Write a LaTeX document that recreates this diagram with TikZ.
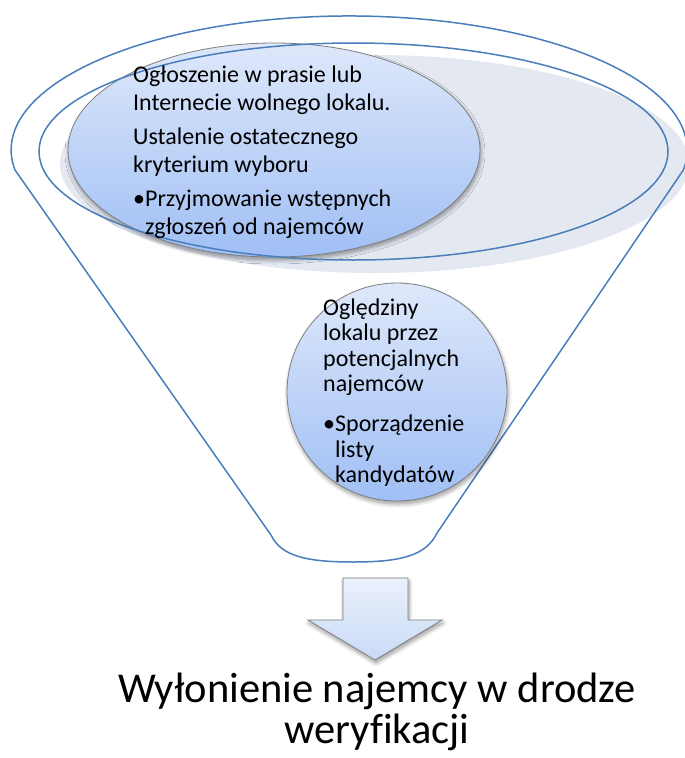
\documentclass[tikz,border=0pt]{standalone}
\usepackage{fontspec}
\setmainfont[Ligatures=NoCommon]{Carlito}
\usetikzlibrary{shapes.geometric,shadows.blur}

\definecolor{funnelblue}{HTML}{4A7EBB}
\definecolor{ringgray}{HTML}{E4E8F1}
\definecolor{bubbletop}{HTML}{DEE8FA}
\definecolor{bubblebot}{HTML}{A0BFF5}
\definecolor{bubbleline}{HTML}{7F7F7F}
\definecolor{arrowtop}{HTML}{EBF1FC}
\definecolor{arrowbot}{HTML}{C9DAF7}

\begin{document}
\begin{tikzpicture}[x=1bp,y=1bp,
  funnelline/.style={draw=funnelblue, line width=1.5bp},
  softshadow/.style={blur shadow={shadow xshift=1bp, shadow yshift=-3bp,
      shadow blur radius=4bp, shadow blur steps=8, shadow opacity=40}},
  bubble/.style={ellipse, draw=bubbleline, line width=0.8bp, inner sep=0pt,
      top color=bubbletop, bottom color=bubblebot, softshadow},
  bubbletext/.style={anchor=base west, inner sep=0pt, text=black},
  arrowbox/.style={draw=bubbleline, line width=0.8bp,
      top color=arrowtop, bottom color=arrowbot, softshadow}
]
\useasboundingbox (0,0) rectangle (685,-758);

\begin{scope}
  \clip (0,0) rectangle (685,-758);
  % pale disc lying under the funnel ring
  \fill[ringgray] (374.5,-164) ellipse [x radius=314.5, y radius=109];

  % first stage
  \node[bubble, minimum width=412bp, minimum height=214bp] (stageA) at (274,-150) {};

  % inner ring of the funnel mouth
  \draw[funnelline] (353.5,-151.5) ellipse [x radius=314.5, y radius=108.5];

  % funnel body: rim arc, sloping walls, rounded spout
  \draw[funnelline] (15,-170)
    arc[start angle=188.6, end angle=-8.6, x radius=338, y radius=134]
    -- (437,-533)
    .. controls (426,-556) and (400,-562) .. (353,-562)
    .. controls (306,-562) and (281,-556) .. (271,-535)
    -- cycle;

  % second stage
  \node[bubble, minimum width=220bp, minimum height=218bp] (stageB) at (397,-392) {};
\end{scope}

% texts of the first stage
\node[bubbletext] (textA) at (133,-82.5) {\parbox[t]{360bp}{%
  \fontsize{24bp}{27.5bp}\selectfont\setlength{\parskip}{7bp}\setlength{\parindent}{0pt}%
  Ogłoszenie w prasie lub\\
  Internecie wolnego lokalu.\par
  Ustalenie ostatecznego\\
  kryterium wyboru\par
  •Przyjmowanie wstępnych\\
  \hspace*{12bp}zgłoszeń od najemców}};

% texts of the second stage
\node[bubbletext] (textB) at (323,-315) {\parbox[t]{200bp}{%
  \fontsize{24bp}{25.5bp}\selectfont\setlength{\parskip}{14.5bp}\setlength{\parindent}{0pt}%
  Oględziny\\
  lokalu przez\\
  potencjalnych\\
  najemców\par
  •Sporządzenie\\
  \hspace*{12bp}listy\\
  \hspace*{12bp}kandydatów}};

% down arrow out of the spout
\path[arrowbox] (343,-578) -- (408,-578) -- (408,-620) -- (442,-620)
  -- (375,-660) -- (308,-620) -- (343,-620) -- cycle;

% outcome
\node[anchor=base, inner sep=0pt] (result) at (377,-702) {\parbox[t]{640bp}{\centering
  \fontsize{42.5bp}{41.5bp}\selectfont
  Wyłonienie najemcy w drodze\\
  weryfikacji}};
\end{tikzpicture}
\end{document}
